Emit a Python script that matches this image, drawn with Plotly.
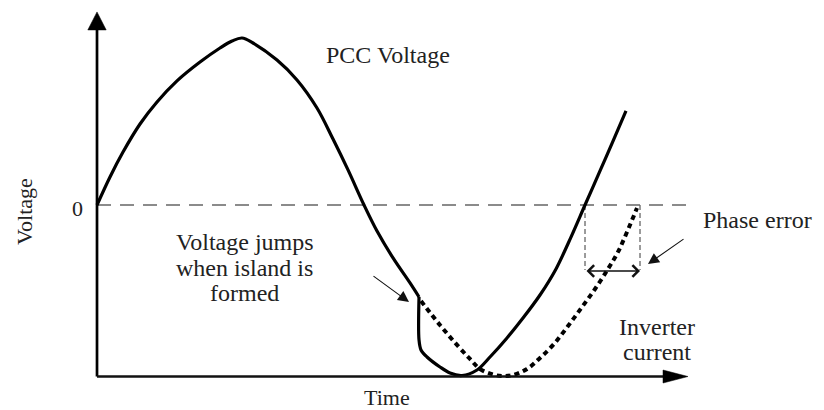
import plotly.graph_objects as go

# ---- data (time in electrical degrees, voltage in per-unit) ----
pcc_before_t = [0.0, 8.86, 17.73, 29.32, 40.91, 54.55, 70.23, 83.86, 92.05, 98.86, 106.36,
                122.73, 136.36, 150.0, 160.91, 171.14, 182.05, 190.91, 201.82, 213.41, 219.55]
pcc_before_v = [0.0, 0.168, 0.317, 0.485, 0.617, 0.743, 0.856, 0.940, 0.982, 1.0, 0.970,
                0.868, 0.749, 0.581, 0.395, 0.210, 0.0, -0.156, -0.317, -0.467, -0.551]

pcc_after_t = [219.55, 219.55, 220.91, 225.0, 233.86, 240.68, 248.86, 259.09, 267.95, 279.55,
               290.45, 302.05, 312.95, 323.18, 332.73, 342.95, 351.82, 360.68]
pcc_after_v = [-0.551, -0.808, -0.868, -0.910, -0.970, -1.006, -1.021, -0.988, -0.910, -0.796,
               -0.677, -0.539, -0.383, -0.192, 0.0, 0.204, 0.383, 0.563]

inv_t = [220.91, 233.86, 245.45, 254.32, 261.14, 270.0, 276.82, 283.64, 293.18, 302.05,
         311.59, 321.14, 330.68, 339.55, 348.41, 355.23, 361.36, 368.18]
inv_v = [-0.575, -0.719, -0.838, -0.922, -0.982, -1.015, -1.024, -1.018, -0.982, -0.916,
         -0.832, -0.725, -0.611, -0.503, -0.383, -0.281, -0.162, -0.018]

# phase error markers: zero crossings of voltage and current
phase_t = [332.73, 370.23]
phase_v_bottom = -0.389
phase_arrow_v = -0.395

# axes frame
X_MIN, X_MAX = -66.14, 495.68
Y_MIN, Y_MAX = -1.2275, 1.2275
AX_Y = -1.027          # level of time axis
T_AXIS_END = 402.95    # tip of time arrow
V_AXIS_END = 1.156     # tip of voltage arrow
ZERO_END = 404.3

TEXT = "#222222"
FONT = "Liberation Serif, Times New Roman, serif"
FS = 24

fig = go.Figure()

fig.add_trace(go.Scatter(x=pcc_before_t, y=pcc_before_v, mode="lines",
                         line=dict(color="black", width=3.2, shape="spline", smoothing=1.0),
                         showlegend=False, hoverinfo="skip"))
fig.add_trace(go.Scatter(x=pcc_after_t, y=pcc_after_v, mode="lines",
                         line=dict(color="black", width=3.2, shape="spline", smoothing=0.9),
                         showlegend=False, hoverinfo="skip"))
fig.add_trace(go.Scatter(x=inv_t, y=inv_v, mode="lines",
                         line=dict(color="black", width=4.0, dash="5px,4px", shape="spline", smoothing=1.0),
                         showlegend=False, hoverinfo="skip"))

shapes = []
# zero dashed line
shapes.append(dict(type="line", xref="x", yref="y", x0=0, x1=ZERO_END, y0=0, y1=0,
                   line=dict(color="#666666", width=1.4, dash="14px,9px"), layer="below"))
# phase error verticals
for t in phase_t:
    shapes.append(dict(type="line", xref="x", yref="y", x0=t, x1=t, y0=0, y1=phase_v_bottom,
                       line=dict(color="#666666", width=1.3, dash="5px,3px"), layer="below"))
# voltage axis
head_v_len = 18 / 167.0
head_v_half = 9.2 * 15 / 22
shapes.append(dict(type="line", xref="x", yref="y", x0=0, x1=0, y0=AX_Y, y1=V_AXIS_END - head_v_len,
                   line=dict(color="black", width=2.7)))
shapes.append(dict(type="path", xref="x", yref="y",
                   path=f"M {-head_v_half},{V_AXIS_END - head_v_len} L {head_v_half},{V_AXIS_END - head_v_len} L 0,{V_AXIS_END} Z",
                   fillcolor="black", line=dict(color="black", width=0.5)))
# time axis
head_t_len = 25 * 15 / 22
head_t_half = 6.5 / 167.0
shapes.append(dict(type="line", xref="x", yref="y", x0=0, x1=T_AXIS_END - head_t_len, y0=AX_Y, y1=AX_Y,
                   line=dict(color="#111111", width=2.7)))
shapes.append(dict(type="path", xref="x", yref="y",
                   path=f"M {T_AXIS_END - head_t_len},{AX_Y - head_t_half} L {T_AXIS_END - head_t_len},{AX_Y + head_t_half} L {T_AXIS_END},{AX_Y} Z",
                   fillcolor="black", line=dict(color="black", width=0.5)))

annotations = []
def txt(s, x, y, size=FS, angle=0):
    annotations.append(dict(text=s, x=x, y=y, xref="x", yref="y", showarrow=False,
                            xanchor="center", yanchor="middle", textangle=angle,
                            font=dict(family=FONT, size=size, color=TEXT)))

txt("PCC Voltage", 198.4, 0.898)
txt("Voltage jumps", 100.9, -0.222)
txt("when island is", 100.9, -0.377)
txt("formed", 100.9, -0.527)
txt("Phase error", 450.0, -0.090)
txt("Inverter", 381.8, -0.731)
txt("current", 381.8, -0.880)
txt("0", -13.6, -0.018, size=22)
txt("Voltage", -49.8, -0.036, size=22, angle=-90)
txt("Time", 197.7, -1.150, size=22)

# pointer arrows
annotations.append(dict(x=212.73, y=-0.581, ax=187.5, ay=-0.419, xref="x", yref="y",
                        axref="x", ayref="y", text="", showarrow=True, arrowhead=2,
                        arrowsize=2.0, arrowwidth=1.1, arrowcolor="#111111"))
annotations.append(dict(x=375.68, y=-0.353, ax=400.91, ay=-0.198, xref="x", yref="y",
                        axref="x", ayref="y", text="", showarrow=True, arrowhead=2,
                        arrowsize=2.0, arrowwidth=1.1, arrowcolor="#111111"))
# phase error double arrow
annotations.append(dict(x=phase_t[1], y=phase_arrow_v, ax=phase_t[0], ay=phase_arrow_v, xref="x", yref="y",
                        axref="x", ayref="y", text="", showarrow=True, arrowhead=4, startarrowhead=4,
                        arrowside="end+start", arrowsize=1.4, startarrowsize=1.4, arrowwidth=1.6,
                        arrowcolor="#111111"))

fig.update_layout(
    width=824, height=410,
    margin=dict(l=0, r=0, t=0, b=0),
    paper_bgcolor="white", plot_bgcolor="white",
    xaxis=dict(range=[X_MIN, X_MAX], visible=False, fixedrange=True),
    yaxis=dict(range=[Y_MIN, Y_MAX], visible=False, fixedrange=True),
    shapes=shapes, annotations=annotations,
)

fig.write_html("out.html", config={"displayModeBar": False},
               post_script="document.body.style.margin='0';document.body.style.overflow='hidden';")
